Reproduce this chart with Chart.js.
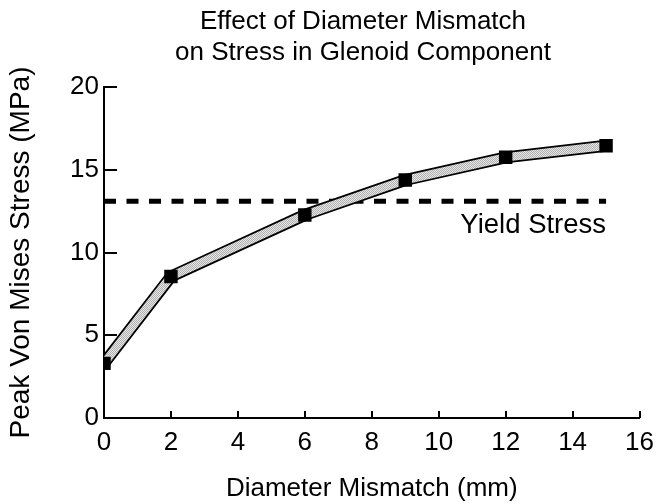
<!DOCTYPE html>
<html>
<head>
<meta charset="utf-8">
<script src="https://cdn.jsdelivr.net/npm/chart.js@4/dist/chart.umd.min.js"></script>
<style>
  html, body { margin: 0; padding: 0; background: #fff; }
  #wrap { width: 663px; height: 504px; position: relative; }
</style>
</head>
<body>
<div id="wrap"><canvas id="c" width="663" height="504"></canvas></div>
<script>
// ---- data ----
const mismatchMm = [0, 2, 6, 9, 12, 15];
const peakStressMPa = [3.3, 8.55, 12.27, 14.38, 15.75, 16.45];
const yieldStressMPa = 13.1;
const yieldRangeMm = [0, 15];
const xTickValues = [0, 2, 4, 6, 8, 10, 12, 14, 16];
const yTickValues = [0, 5, 10, 15, 20];
const titleLines = ['Effect of Diameter Mismatch', 'on Stress in Glenoid Component'];
const xAxisTitle = 'Diameter Mismatch (mm)';
const yAxisTitle = 'Peak Von Mises Stress (MPa)';
const yieldLabel = 'Yield Stress';

const FONT = "'Liberation Sans', Arial, Helvetica, sans-serif";

// stipple pattern for the band
function makePattern() {
  const p = document.createElement('canvas');
  p.width = 2; p.height = 2;
  const g = p.getContext('2d');
  g.fillStyle = '#e6e6e6'; g.fillRect(0, 0, 2, 2);
  g.fillStyle = '#b0b0b0'; g.fillRect(0, 0, 1, 1); g.fillRect(1, 1, 1, 1);
  return document.getElementById('c').getContext('2d').createPattern(p, 'repeat');
}
const stipple = makePattern();

const curve = mismatchMm.map((x, i) => ({ x: x, y: peakStressMPa[i] }));
const yieldLine = yieldRangeMm.map(x => ({ x: x, y: yieldStressMPa }));

const decor = {
  id: 'decor',
  beforeDatasetsDraw(chart) {
    const ctx = chart.ctx;
    const xs = chart.scales.x, ys = chart.scales.y;
    const ca = chart.chartArea;
    ctx.save();
    ctx.strokeStyle = '#000';
    ctx.lineWidth = 2;
    ctx.lineCap = 'butt';
    yTickValues.forEach(v => {
      if (v === 0) return;
      const y = Math.round(ys.getPixelForValue(v));
      ctx.beginPath(); ctx.moveTo(ca.left, y); ctx.lineTo(ca.left + 13, y); ctx.stroke();
    });
    xTickValues.forEach(v => {
      if (v === 0) return;
      const x = Math.round(xs.getPixelForValue(v));
      ctx.beginPath(); ctx.moveTo(x, ca.bottom); ctx.lineTo(x, ca.bottom - 7); ctx.stroke();
    });
    ctx.restore();
  },
  afterDraw(chart) {
    const ctx = chart.ctx;
    const xs = chart.scales.x, ys = chart.scales.y;
    ctx.save();
    ctx.fillStyle = '#000';
    ctx.textAlign = 'center';
    ctx.textBaseline = 'middle';
    ctx.font = '26px ' + FONT;
    ctx.fillText(titleLines[0], 363, 22);
    ctx.fillText(titleLines[1], 363, 53);
    // yield label
    ctx.textAlign = 'right';
    ctx.font = '27.5px ' + FONT;
    ctx.fillText(yieldLabel, xs.getPixelForValue(yieldRangeMm[1]), ys.getPixelForValue(yieldStressMPa) + 24);
    ctx.restore();
  }
};

new Chart(document.getElementById('c'), {
  type: 'line',
  data: {
    datasets: [
      {
        data: yieldLine, borderColor: '#000', borderWidth: 5, borderDash: [12, 10.5],
        pointRadius: 0, fill: false, order: 4
      },
      {
        data: curve, borderColor: '#000', borderWidth: 12, pointRadius: 0,
        borderJoinStyle: 'miter', borderCapStyle: 'butt', fill: false, order: 3
      },
      {
        data: curve, borderColor: stipple, borderWidth: 8.5, pointRadius: 0,
        borderJoinStyle: 'miter', borderCapStyle: 'butt', fill: false, order: 2
      },
      {
        data: curve, showLine: false, pointStyle: 'rect', pointRadius: 9.5,
        pointBackgroundColor: '#000', pointBorderColor: '#000', pointBorderWidth: 0, order: 1
      }
    ]
  },
  options: {
    responsive: false,
    animation: false,
    layout: { padding: { top: 87, right: 18, bottom: 0, left: 0 } },
    plugins: { legend: { display: false }, tooltip: { enabled: false }, title: { display: false } },
    scales: {
      x: {
        type: 'linear', min: 0, max: 16,
        afterBuildTicks: s => { s.ticks = xTickValues.map(v => ({ value: v })); },
        afterFit: s => { s.height = 86; },
        grid: { display: true, drawOnChartArea: false, drawTicks: false },
        border: { display: true, color: '#000', width: 2 },
        ticks: { color: '#000', font: { family: FONT, size: 26 }, padding: 9, maxRotation: 0, autoSkip: false },
        title: { display: true, text: xAxisTitle, color: '#000', font: { family: FONT, size: 26 }, padding: { top: 6, bottom: 0 } }
      },
      y: {
        type: 'linear', min: 0, max: 20,
        afterBuildTicks: s => { s.ticks = yTickValues.map(v => ({ value: v })); },
        afterFit: s => { s.width = 104; },
        grid: { display: true, drawOnChartArea: false, drawTicks: false },
        border: { display: true, color: '#000', width: 2 },
        ticks: { color: '#000', font: { family: FONT, size: 26 }, padding: 5 },
        title: { display: true, text: yAxisTitle, color: '#000', font: { family: FONT, size: 28 }, padding: { top: 4, bottom: 0 } }
      }
    }
  },
  plugins: [decor]
});
</script>
</body>
</html>
